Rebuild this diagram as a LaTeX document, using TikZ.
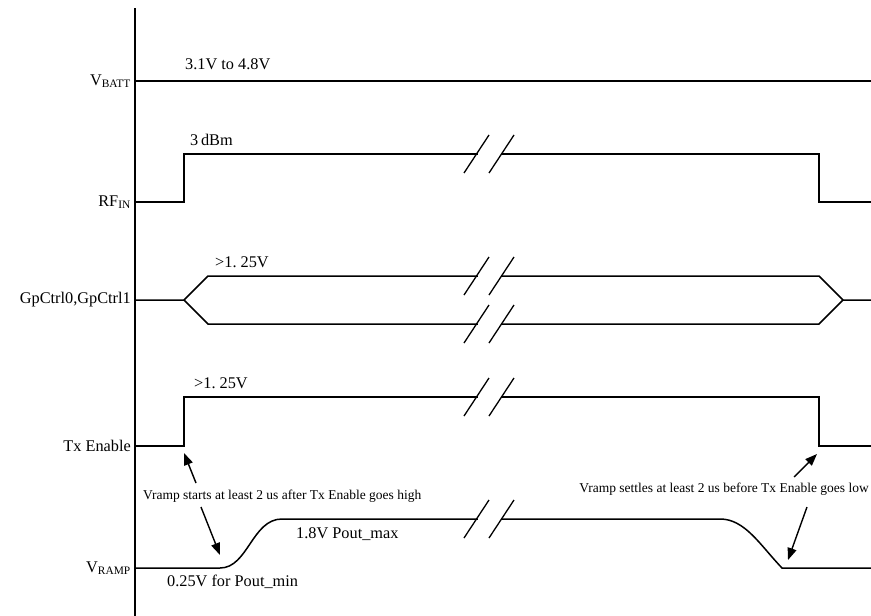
\documentclass[tikz,border=0pt]{standalone}
\usepackage{fontspec}
\setmainfont{Liberation Serif}
\usetikzlibrary{arrows.meta}
\tikzset{
  wave/.style={line width=1.5pt,line join=miter},
  lbl/.style={font=\fontsize{16.3}{18}\selectfont,inner sep=1pt},
  note/.style={font=\fontsize{13.5}{15}\selectfont,inner sep=1pt},
  arr/.style={line width=1.4pt,-{Triangle[length=12pt,width=9pt]}}
}
\begin{document}
\begin{tikzpicture}[x=1pt,y=-1pt]
\useasboundingbox(0,0)rectangle(871,616);
\pgfmathsetmacro{\xa}{184}
\pgfmathsetmacro{\xb}{819}
\draw[wave](135,8)coordinate(top)--(135,616)coordinate(bot);
\node[lbl,anchor=east](vbatt)at(132,81){V\textsubscript{BATT}};
\node[lbl,anchor=east](rfin)at(132,202){RF\textsubscript{IN}};
\node[lbl,anchor=east](gpc)at(132,300){GpCtrl0,GpCtrl1};
\node[lbl,anchor=east](txen)at(132,446){Tx Enable};
\node[lbl,anchor=east](vramp)at(132,568){V\textsubscript{RAMP}};
\draw[wave](135,81)--(871,81);
\draw[wave](135,202)--(\xa,202)coordinate(rf1)--(\xa,154)--(\xb,154)--(\xb,202)--(871,202);
\draw[wave](135,300)--(\xa,300)--(208,276)--(\xb,276)--(843,300)--(871,300);
\draw[wave](\xa,300)--(208,324)--(\xb,324)--(843,300);
\draw[wave](135,446)--(\xa,446)coordinate(tx1)--(\xa,397)--(\xb,397)--(\xb,446)coordinate(tx2)--(871,446);
\draw[wave](135,568)--(220,568)coordinate(vr1)..controls(248,568)and(252,519)..(282,519)--(720,519)..controls(745,519)and(760,545)..(782,568)coordinate(vr2)--(871,568);
\foreach \y in {154,276,324,397,519}{
  \draw[white,line width=4pt](478,\y)--(502,\y);
  \draw[line width=1.3pt](464,\y+19)--(489,\y-19);
  \draw[line width=1.3pt](489,\y+19)--(514,\y-19);
}
\node[lbl,anchor=west](vb)at(184,64){3.1V to 4.8V};
\node[lbl,anchor=west](rfv)at(189,140){3\,dBm};
\node[lbl,anchor=west](gpv)at(214,262){{>}1.\ 25V};
\node[lbl,anchor=west](txv)at(193,383){{>}1.\ 25V};
\node[lbl,anchor=west](pmax)at(295,534){1.8V Pout\_max};
\node[lbl,anchor=west](pmin)at(166,582){0.25V for Pout\_min};
\node[note,anchor=west](noteA)at(142,496){Vramp starts at least 2 us after Tx Enable goes high};
\node[note,anchor=east](noteB)at(870,489){Vramp settles at least 2 us before Tx Enable goes low};
\coordinate(a1)at(196,483);
\coordinate(a2)at(201,507);
\coordinate(b1)at(794,477);
\coordinate(b2)at(807,507);
\draw[arr](a1)--([yshift=-7]tx1);
\draw[arr](a2)--([yshift=13]vr1);
\draw[arr](b1)--([yshift=-8,xshift=-2]tx2);
\draw[arr](b2)--([yshift=8,xshift=6]vr2);
\end{tikzpicture}
\end{document}
